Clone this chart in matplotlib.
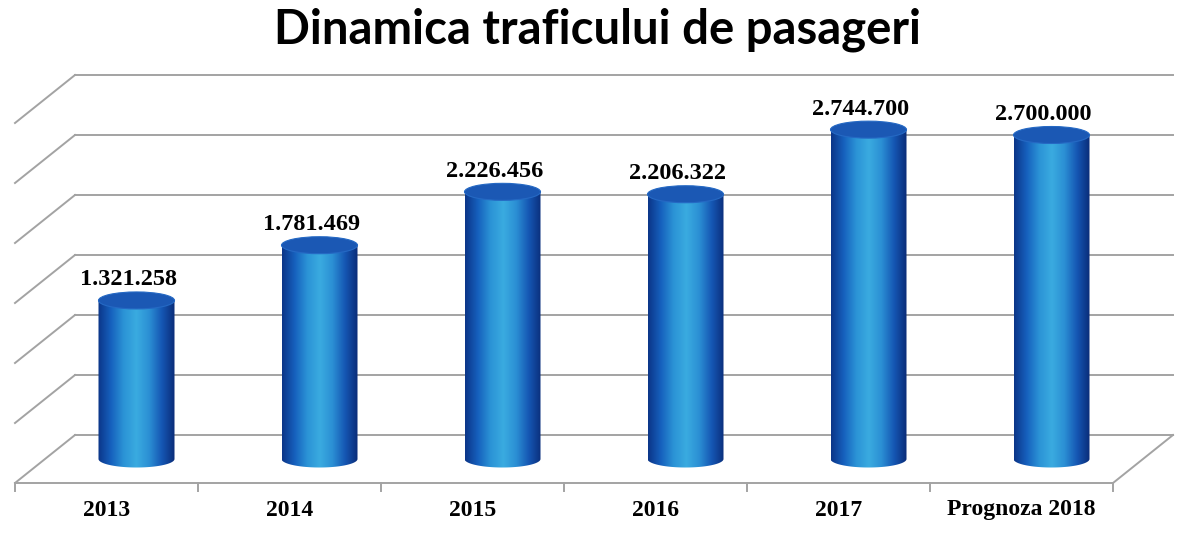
import numpy as np
import matplotlib
matplotlib.use("Agg")
import matplotlib.pyplot as plt
from matplotlib.patches import Ellipse, PathPatch
from matplotlib.path import Path
from matplotlib.colors import LinearSegmentedColormap

# ---- data ----
categories = ["2013", "2014", "2015", "2016", "2017", "Prognoza 2018"]
values = [1321258, 1781469, 2226456, 2206322, 2744700, 2700000]
value_labels = ["1.321.258", "1.781.469", "2.226.456", "2.206.322", "2.744.700", "2.700.000"]
gridlines = [0, 500000, 1000000, 1500000, 2000000, 2500000, 3000000]
title = "Dinamica traficului de pasageri"

# ---- figure / geometry ----
W, H = 1200, 553
fig = plt.figure(figsize=(W / 100, H / 100), dpi=100)
fig.patch.set_facecolor("white")
px_per_unit_y = 120 / 1e6          # pixels per passenger
ax = fig.add_axes([15 / W, 70 / H, 1098 / W, 483 / H])
ax.set_xlim(0, len(categories))
ax.set_ylim(0, 483 / px_per_unit_y)
ax.axis("off")

dx = 60 / 183                       # depth offset in category units
dy = 48 / px_per_unit_y             # depth offset in value units
n = len(categories)
grid_c = "#a3a3a3"

# back wall grid lines + side wall diagonals
for g in gridlines:
    ax.plot([dx, n + dx], [g + dy, g + dy], color=grid_c, lw=1.4, zorder=1, clip_on=False)
    ax.plot([0, dx], [g, g + dy], color=grid_c, lw=1.4, zorder=1, clip_on=False)
# floor
ax.plot([0, n], [0, 0], color=grid_c, lw=1.4, zorder=1, clip_on=False)
ax.plot([n, n + dx], [0, dy], color=grid_c, lw=1.4, zorder=1, clip_on=False)
tick_len = 8 / px_per_unit_y
for i in range(n + 1):
    ax.plot([i, i], [0, -tick_len], color=grid_c, lw=1.4, zorder=1, clip_on=False)

# ---- cylinders ----
cmap = LinearSegmentedColormap.from_list(
    "cyl", ["#0b3588", "#1660bd", "#2b93d6", "#3aabe0", "#2b8fd4", "#1556b3", "#0a2c78"])
grad = np.linspace(0, 1, 256).reshape(1, -1)
hw = 38 / 183
eh = 17 / px_per_unit_y
base = dy / 2
for i, v in enumerate(values):
    cx = i + 0.5 + dx / 2
    top = base + v
    t = np.linspace(np.pi, 2 * np.pi, 60)
    bx = cx + hw * np.cos(t)
    by = base + eh / 2 * np.sin(t)
    verts = list(zip(bx, by)) + [(cx + hw, top), (cx - hw, top), (cx - hw, base)]
    codes = [Path.MOVETO] + [Path.LINETO] * (len(verts) - 2) + [Path.CLOSEPOLY]
    clip = PathPatch(Path(verts, codes), transform=ax.transData, facecolor="none", edgecolor="none")
    ax.add_patch(clip)
    im = ax.imshow(grad, cmap=cmap, aspect="auto", extent=[cx - hw, cx + hw, base - eh, top],
                   zorder=3, interpolation="bilinear")
    im.set_clip_path(clip)
    ax.add_patch(Ellipse((cx, top), 2 * hw, eh, facecolor="#1b58b4", edgecolor="#2569c4",
                         lw=0.8, zorder=4))
    ax.text(cx - 0.045, top + 15 / px_per_unit_y, value_labels[i], ha="center", va="baseline",
            fontsize=17.5, fontweight="bold", family="Liberation Serif", color="black",
            zorder=5, clip_on=False)

ax.set_xlim(0, n)
ax.set_ylim(0, 483 / px_per_unit_y)

# category labels (front edge)
for i, c in enumerate(categories):
    ax.text(i + 0.5, -27 / px_per_unit_y, c, ha="center", va="center", fontsize=17,
            fontweight="bold", family="Liberation Serif", color="black", clip_on=False)

fig.text(598 / W, 1 - 30 / H, title, ha="center", va="center", fontsize=34,
         fontweight="bold", family="Lato", color="black")

fig.savefig("out.png", dpi=100, facecolor="white")
